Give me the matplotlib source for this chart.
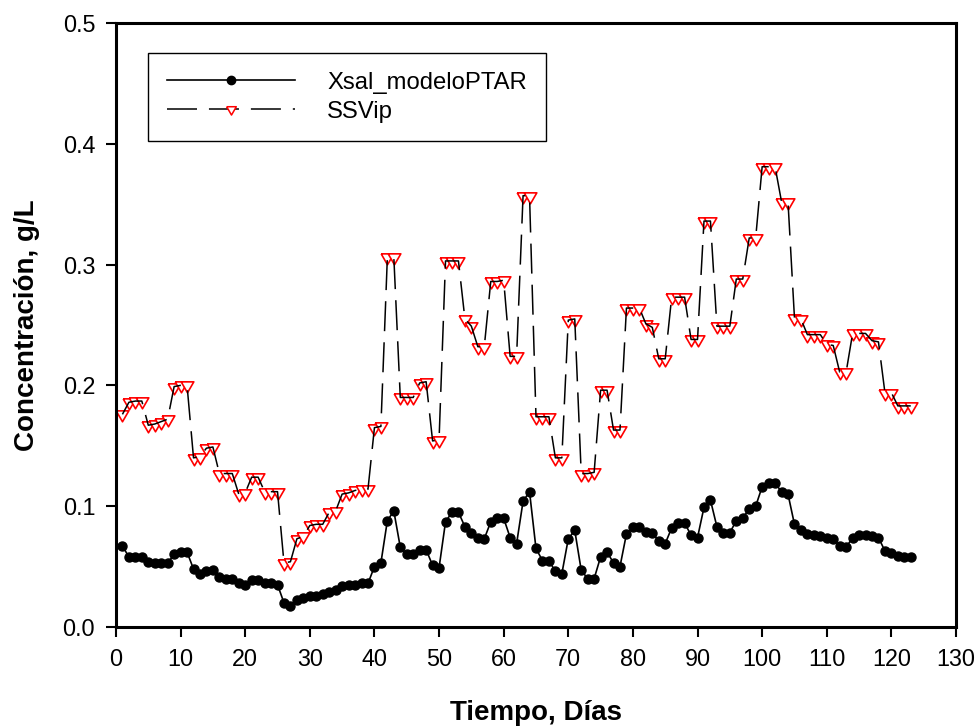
import numpy as np
import matplotlib
matplotlib.use("Agg")
import matplotlib.pyplot as plt
from matplotlib.lines import Line2D
from matplotlib.ticker import MultipleLocator, FormatStrFormatter

plt.rcParams["font.family"] = ["Liberation Sans", "DejaVu Sans"]
plt.rcParams["lines.scale_dashes"] = False

# ---- data (day 1..123) ----
days = np.arange(1, 124)

xsal_modelo = [
    0.067, 0.058, 0.058, 0.058, 0.054, 0.053, 0.053, 0.053, 0.060, 0.062,
    0.062, 0.048, 0.044, 0.046, 0.047, 0.041, 0.040, 0.040, 0.036, 0.035,
    0.039, 0.039, 0.036, 0.036, 0.035, 0.020, 0.017, 0.022, 0.024, 0.026,
    0.026, 0.027, 0.029, 0.031, 0.034, 0.035, 0.035, 0.036, 0.036, 0.050,
    0.053, 0.088, 0.096, 0.066, 0.060, 0.060, 0.064, 0.064, 0.051, 0.049,
    0.087, 0.095, 0.095, 0.083, 0.078, 0.074, 0.073, 0.087, 0.090, 0.090,
    0.074, 0.069, 0.104, 0.112, 0.065, 0.055, 0.055, 0.046, 0.044, 0.073,
    0.080, 0.047, 0.040, 0.040, 0.058, 0.062, 0.053, 0.050, 0.077, 0.083,
    0.083, 0.079, 0.078, 0.071, 0.069, 0.082, 0.086, 0.086, 0.076, 0.074,
    0.099, 0.105, 0.083, 0.078, 0.078, 0.088, 0.090, 0.098, 0.100, 0.116,
    0.119, 0.119, 0.112, 0.110, 0.085, 0.080, 0.077, 0.076, 0.075, 0.074,
    0.073, 0.067, 0.066, 0.074, 0.076, 0.076, 0.075, 0.074, 0.063, 0.061,
    0.059, 0.058, 0.058,
]

ssvip = [
    0.176, 0.186, 0.187, 0.187, 0.167, 0.168, 0.170, 0.172, 0.199, 0.200,
    0.200, 0.140, 0.141, 0.148, 0.149, 0.127, 0.127, 0.127, 0.110, 0.111,
    0.124, 0.124, 0.112, 0.112, 0.112, 0.053, 0.054, 0.073, 0.075, 0.084,
    0.085, 0.085, 0.095, 0.096, 0.110, 0.111, 0.113, 0.114, 0.114, 0.165,
    0.166, 0.306, 0.306, 0.190, 0.190, 0.190, 0.202, 0.203, 0.154, 0.155,
    0.303, 0.303, 0.303, 0.255, 0.249, 0.232, 0.232, 0.286, 0.286, 0.287,
    0.224, 0.224, 0.357, 0.357, 0.174, 0.174, 0.174, 0.140, 0.140, 0.254,
    0.255, 0.127, 0.127, 0.128, 0.196, 0.196, 0.163, 0.163, 0.264, 0.264,
    0.264, 0.251, 0.248, 0.222, 0.222, 0.273, 0.273, 0.273, 0.238, 0.238,
    0.336, 0.336, 0.249, 0.249, 0.249, 0.288, 0.288, 0.322, 0.322, 0.381,
    0.381, 0.381, 0.352, 0.352, 0.256, 0.255, 0.242, 0.242, 0.242, 0.234,
    0.233, 0.211, 0.211, 0.243, 0.243, 0.243, 0.237, 0.236, 0.194, 0.194,
    0.183, 0.183, 0.183,
]

label_modelo = "Xsal_modeloPTAR"
label_ssvip = "SSVip"

# equilateral down-pointing triangle, centred on its centroid
TRI = [(-1.0, 0.577), (1.0, 0.577), (0.0, -1.155), (-1.0, 0.577)]
DASH = (21.6, 8.0)

fig = plt.figure(figsize=(9.77, 7.26), dpi=100)
ax = fig.add_axes([0.1187, 0.1364, 0.8598, 0.8320])

# triangles under the dashed line, like the original
ax.plot(days, ssvip, linestyle="none", marker=TRI, markersize=10.5,
        markerfacecolor="white", markeredgecolor="red", markeredgewidth=1.2,
        zorder=2)
ax.plot(days, ssvip, color="black", linewidth=1.1, dashes=DASH, zorder=3)
ax.plot(days, xsal_modelo, color="black", linewidth=1.2, marker="o",
        markersize=6.5, zorder=4)

ax.set_xlim(0, 130)
ax.set_ylim(0, 0.5)
ax.xaxis.set_major_locator(MultipleLocator(10))
ax.yaxis.set_major_locator(MultipleLocator(0.1))
ax.yaxis.set_major_formatter(FormatStrFormatter("%.1f"))
ax.tick_params(direction="out", length=7, width=1.5, labelsize=16.8, pad=8,
               top=False, right=False)
for s in ax.spines.values():
    s.set_linewidth(2.2)

ax.set_xlabel("Tiempo, Días", fontsize=20, fontweight="bold", labelpad=21)
ax.set_ylabel("Concentración, g/L", fontsize=20, fontweight="bold", labelpad=16)

handles = [
    Line2D([0], [0], color="black", linewidth=1.2, marker="o", markersize=6),
    Line2D([0], [0], color="black", linewidth=1.1, dashes=(21.6, 8.6),
           marker=TRI, markersize=8, markerfacecolor="white",
           markeredgecolor="red", markeredgewidth=1.1),
]
leg = ax.legend(handles, [label_modelo, label_ssvip], loc="upper left",
                bbox_to_anchor=(148 / 977, 1 - 53 / 726),
                bbox_transform=fig.transFigure, borderaxespad=0,
                fontsize=17.2, numpoints=1, handlelength=5.36,
                handletextpad=1.36, labelspacing=0.3, borderpad=0.78,
                fancybox=False, framealpha=1, edgecolor="black")
leg.get_frame().set_linewidth(1.0)

fig.savefig("out.png", dpi=100, facecolor="white")
